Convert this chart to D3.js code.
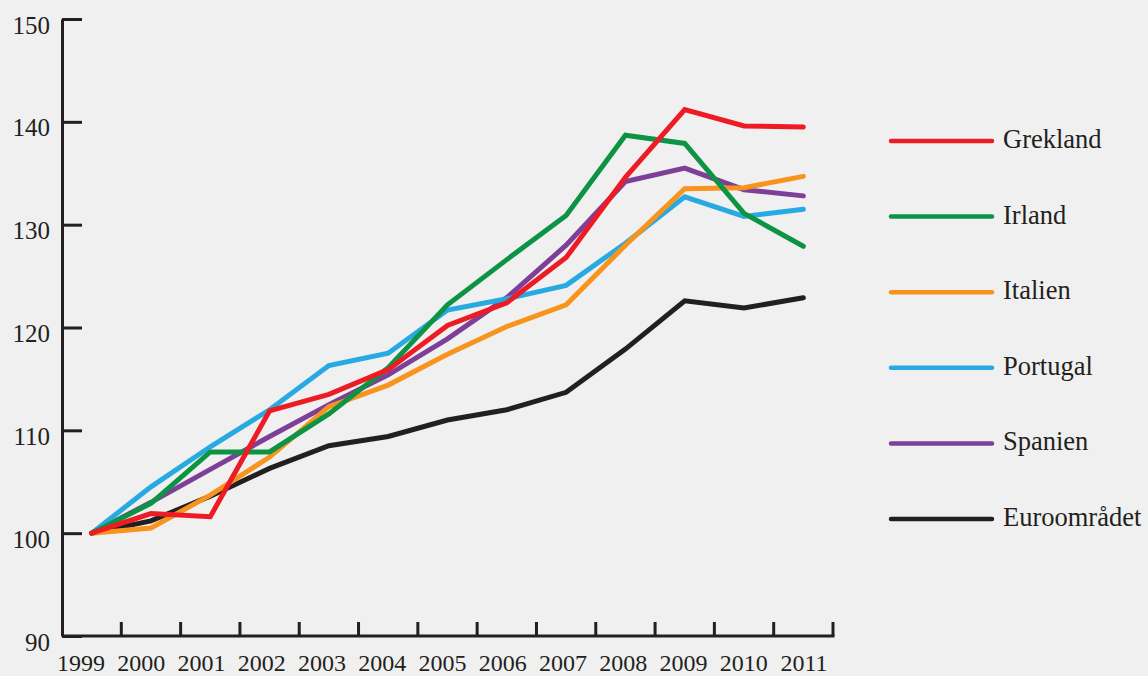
<!DOCTYPE html>
<html>
<head>
<meta charset="utf-8">
<script src="https://d3js.org/d3.v7.min.js"></script>
<style>
    body { margin: 0; background: #f0f0f0; }
    svg { display: block; }
    svg text { font-family: "Liberation Serif", "Times New Roman", serif; fill: #231f20; }
    .line { fill: none; stroke-width: 5; stroke-linejoin: miter; stroke-linecap: round; }
    .axis path, .axis line { stroke: #231f20; stroke-width: 3; }
</style>
</head>
<body>
<div id="chart"></div>
<script>
    // data
    var years = ["1999", "2000", "2001", "2002", "2003", "2004", "2005", "2006", "2007", "2008", "2009", "2010", "2011"];
    var yTicks = [90, 100, 110, 120, 130, 140, 150];

    var grekland   = [100, 101.9, 101.6, 111.9, 113.5, 115.9, 120.2, 122.4, 126.8, 134.6, 141.2, 139.6, 139.5];
    var irland     = [100, 102.9, 107.9, 107.9, 111.6, 116.1, 122.2, 126.6, 130.9, 138.7, 137.9, 131.1, 127.9];
    var italien    = [100, 100.5, 103.7, 107.4, 112.3, 114.4, 117.4, 120.1, 122.2, 128.0, 133.5, 133.6, 134.7];
    var portugal   = [100, 104.5, 108.4, 112.0, 116.3, 117.5, 121.7, 122.8, 124.1, 128.2, 132.7, 130.8, 131.5];
    var spanien    = [100, 103.0, 106.2, 109.4, 112.5, 115.4, 118.9, 122.9, 128.0, 134.2, 135.5, 133.4, 132.8];
    var euro       = [100, 101.2, 103.6, 106.3, 108.5, 109.4, 111.0, 112.0, 113.7, 117.9, 122.6, 121.9, 122.9];

    var series = [
        { name: "Grekland", color: "#ed1c24", values: grekland },
        { name: "Irland", color: "#0c9444", values: irland },
        { name: "Italien", color: "#f7941d", values: italien },
        { name: "Portugal", color: "#27aae1", values: portugal },
        { name: "Spanien", color: "#7e3f98", values: spanien },
        { name: "Euroområdet", color: "#231f20", values: euro }
    ];

    var width = 1148, height = 676;

    var svg = d3.select("#chart").append("svg")
        .attr("width", width)
        .attr("height", height);

    /* Scales */
    var xScale = d3.scaleBand().domain(years).range([62, 833]);
    var xLabel = d3.scalePoint().domain(years).range([81, 804]); // labels sit a bit off the band centres
    var yScale = d3.scaleLinear().domain([90, 150]).range([636, 19]);

    /* Y axis, ticks pointing inwards */
    var yAxis = d3.axisLeft(yScale)
        .tickValues(yTicks)
        .tickSize(-20)
        .tickSizeOuter(0)
        .tickPadding(12);

    var gy = svg.append("g")
        .attr("class", "axis")
        .attr("transform", "translate(62,0)")
        .call(yAxis)
        .attr("font-family", null)
        .attr("font-size", null);
    gy.selectAll("text")
        .attr("dy", "0.56em")
        .attr("fill", null)
        .style("font-size", "25px");

    /* X axis, ticks on band edges */
    var gx = svg.append("g").attr("class", "axis");
    gx.append("path")
        .attr("d", "M" + xScale.range()[0] + "," + yScale(90) + "H" + (xScale.range()[1] + 1.5));
    gx.selectAll(".xtick")
        .data(years).enter()
        .append("line")
        .attr("class", "xtick")
        .attr("x1", d => xScale(d) + xScale.bandwidth())
        .attr("x2", d => xScale(d) + xScale.bandwidth())
        .attr("y1", yScale(90))
        .attr("y2", yScale(90) - 14);
    gx.selectAll(".xlabel")
        .data(years).enter()
        .append("text")
        .attr("class", "xlabel")
        .attr("x", d => xLabel(d))
        .attr("y", yScale(90) + 35)
        .attr("text-anchor", "middle")
        .style("font-size", "24px")
        .text(d => d);

    /* Lines, drawn bottom to top in reverse legend order */
    var line = d3.line()
        .x((d, i) => xScale(years[i]) + xScale.bandwidth() / 2)
        .y(d => yScale(d));

    svg.append("g").selectAll(".line")
        .data(series.slice().reverse()).enter()
        .append("path")
        .attr("class", "line")
        .attr("d", d => line(d.values))
        .style("stroke", d => d.color);

    /* Legend */
    var legend = svg.append("g").selectAll("g")
        .data(series).enter()
        .append("g")
        .attr("transform", (d, i) => "translate(891," + (141 + i * 75.6) + ")");
    legend.append("line")
        .attr("x1", 0).attr("x2", 101)
        .attr("y1", 0).attr("y2", 0)
        .style("stroke", d => d.color)
        .style("stroke-width", 4.5)
        .style("stroke-linecap", "round");
    legend.append("text")
        .attr("x", 112)
        .attr("y", 7)
        .style("font-size", "26.5px")
        .text(d => d.name);
</script>
</body>
</html>
